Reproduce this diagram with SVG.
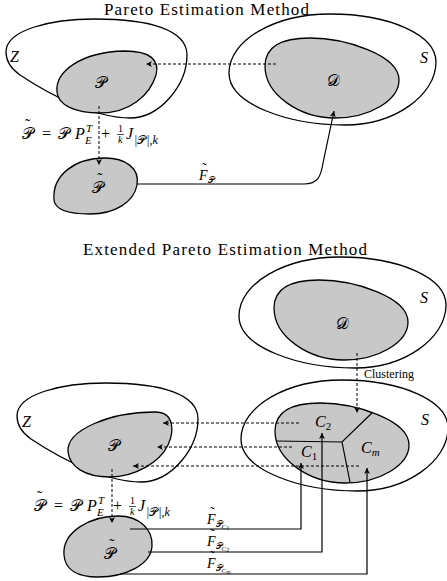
<svg xmlns="http://www.w3.org/2000/svg" width="447" height="581" viewBox="0 0 447 581">
<style>
.o{fill:none;stroke:#000;stroke-width:1.3}
.g{fill:#c8c8c8;stroke:#000;stroke-width:1.3}
.d{fill:none;stroke:#000;stroke-width:1;stroke-dasharray:3,2}
.s{fill:none;stroke:#000;stroke-width:1.2}
.t{font-family:"Liberation Serif","DejaVu Serif",serif;fill:#000}
.m{font-family:"Liberation Serif","DejaVu Serif",serif;font-style:italic;fill:#000}
.c{font-family:"DejaVu Serif","Liberation Serif",serif;font-style:normal;fill:#000}
.w{font-family:"Liberation Serif","DejaVu Serif",serif;fill:#000;font-size:16px}
</style>
<defs>
<marker id="ah" viewBox="0 0 10 10" refX="10" refY="5" markerWidth="7" markerHeight="6" orient="auto" markerUnits="userSpaceOnUse"><path d="M0,0 L10,5 L0,10 L3,5 z" fill="#000"/></marker>
<path id="Zs" d="M6,52 C6,30 50,19 95,19 C150,19 187,30 187,55 C187,85 160,118 130,118 C95,118 50,95 20,75 C10,68 6,60 6,52 Z"/>
<path id="Ss" d="M229,73 C229,40 275,14 330,14 C390,14 436,35 436,62 C436,95 395,125 345,125 C290,125 229,105 229,73 Z"/>
<path id="Ds" d="M265,66 C265,45 285,38 310,38 C345,38 399,55 399,80 C399,100 370,118 335,118 C300,118 265,95 265,66 Z"/>
</defs>

<text class="t" x="104" y="15" font-size="17" textLength="205" lengthAdjust="spacing">Pareto Estimation Method</text>
<text class="t" x="83" y="255" font-size="17" textLength="284" lengthAdjust="spacing">Extended Pareto Estimation Method</text>

<!-- top part -->
<g id="Z1"><use href="#Zs" class="o"/><text class="m" x="10" y="62" font-size="16">Z</text></g>
<g id="P1"><path class="g" d="M57,92 C55,72 80,52 125,51 C150,51 160,60 156,75 C150,95 130,113 100,113 C75,113 58,105 57,92 Z"/><text class="c" x="101" y="88" font-size="16" text-anchor="middle">𝒫</text></g>
<g id="S1"><use href="#Ss" class="o"/><text class="m" x="420" y="63" font-size="16">S</text></g>
<g id="D1"><use href="#Ds" class="g"/><text class="c" x="333" y="86" font-size="16" text-anchor="middle">𝒟</text></g>
<g id="PT1"><path class="g" d="M54,200 C52,175 75,158 105,158 C125,158 140,168 137,185 C134,202 115,214 90,214 C70,214 55,210 54,200 Z"/><text class="c" x="98" y="193" font-size="16" text-anchor="middle">𝒫</text><text class="w" x="100" y="184" text-anchor="middle">˜</text></g>

<!-- bottom part -->
<g id="S2"><use href="#Ss" class="o" transform="translate(10,243)"/><text class="m" x="420" y="303" font-size="16">S</text></g>
<g id="D2"><use href="#Ds" class="g" transform="translate(9,242)"/><text class="c" x="342" y="329" font-size="16" text-anchor="middle">𝒟</text></g>
<g id="Z2"><use href="#Zs" class="o" transform="translate(11,364)"/><text class="m" x="22" y="427" font-size="16">Z</text></g>
<g id="P2"><path class="g" d="M68,452 C66,430 110,412 155,412 C175,412 174,432 168,445 C160,462 135,477 110,477 C85,477 70,467 68,452 Z"/><text class="c" x="114" y="451" font-size="16" text-anchor="middle">𝒫</text></g>
<g id="S3"><use href="#Ss" class="o" transform="translate(12,366)"/><text class="m" x="421" y="425" font-size="16">S</text></g>
<g id="C"><use href="#Ds" class="g" transform="translate(10,365)"/>
<path class="s" d="M372,413 L342,442 L276,441 M342,442 L350,482"/>
<text class="m" x="315" y="427" font-size="16">C<tspan font-size="11" dy="3" font-style="normal">2</tspan></text>
<text class="m" x="301" y="457" font-size="16">C<tspan font-size="11" dy="3" font-style="normal">1</tspan></text>
<text class="m" x="361" y="453" font-size="16">C<tspan font-size="11" dy="3">m</tspan></text>
</g>
<g id="PT2"><path class="g" d="M64,555 C62,532 90,516 118,516 C140,516 153,530 152,546 C151,565 125,577 98,577 C78,577 65,570 64,555 Z"/><text class="c" x="110" y="559" font-size="16" text-anchor="middle">𝒫</text><text class="w" x="112" y="550" text-anchor="middle">˜</text></g>

<!-- formulas -->
<g id="F1">
<text class="c" x="22" y="139" font-size="16">𝒫</text><text class="w" x="25" y="130">˜</text>
<text class="t" x="42" y="139" font-size="16">=</text>
<text class="c" x="58" y="139" font-size="16">𝒫</text>
<text class="m" x="75" y="139" font-size="16">P</text>
<text class="m" x="86" y="132" font-size="11">T</text>
<text class="m" x="85" y="144" font-size="11">E</text>
<text class="t" x="101" y="139" font-size="16">+</text>
<text class="t" x="118" y="132" font-size="10">1</text>
<line x1="117" y1="134.5" x2="124" y2="134.5" stroke="#000" stroke-width="0.7"/>
<text class="m" x="118" y="143" font-size="10">k</text>
<text class="m" x="126" y="139" font-size="16">J</text>
<text class="m" x="134" y="144" font-size="12">|<tspan class="c">𝒫</tspan>|,k</text>
</g>
<g id="F2" transform="translate(12,372)">
<text class="c" x="22" y="139" font-size="16">𝒫</text><text class="w" x="25" y="130">˜</text>
<text class="t" x="42" y="139" font-size="16">=</text>
<text class="c" x="58" y="139" font-size="16">𝒫</text>
<text class="m" x="75" y="139" font-size="16">P</text>
<text class="m" x="86" y="132" font-size="11">T</text>
<text class="m" x="85" y="144" font-size="11">E</text>
<text class="t" x="101" y="139" font-size="16">+</text>
<text class="t" x="118" y="132" font-size="10">1</text>
<line x1="117" y1="134.5" x2="124" y2="134.5" stroke="#000" stroke-width="0.7"/>
<text class="m" x="118" y="143" font-size="10">k</text>
<text class="m" x="126" y="139" font-size="16">J</text>
<text class="m" x="134" y="144" font-size="12">|<tspan class="c">𝒫</tspan>|,k</text>
</g>

<!-- connectors -->
<g id="connectors">
<path class="d" d="M276,64 H146" marker-end="url(#ah)"/>
<path class="d" d="M99,106 V165" marker-end="url(#ah)"/>
<path class="s" d="M137,184 H304 C318,184 321,176 323,163 L334,111" marker-end="url(#ah)"/>
<path class="d" d="M357,353 V413" marker-end="url(#ah)"/>
<path class="d" d="M299,423 H163" marker-end="url(#ah)"/>
<path class="d" d="M292,447 H157" marker-end="url(#ah)"/>
<path class="d" d="M359,466 H133" marker-end="url(#ah)"/>
<path class="d" d="M112,469 V523" marker-end="url(#ah)"/>
<path class="s" d="M130,529 H301 V463" marker-end="url(#ah)"/>
<path class="s" d="M148,552 H322 V433" marker-end="url(#ah)"/>
<path class="s" d="M120,574 H367 V468" marker-end="url(#ah)"/>
</g>

<!-- labels -->
<text class="t" x="364" y="378" font-size="12">Clustering</text>
<g id="L1"><text class="m" x="199" y="180" font-size="14">F<tspan class="c" font-size="9" dy="3">𝒫</tspan></text><text class="t" x="202" y="173" font-size="14">˜</text></g>
<g id="L2"><text class="m" x="207" y="524" font-size="14">F<tspan class="c" font-size="9" dy="3">𝒫</tspan><tspan font-size="7" dy="2">C</tspan><tspan font-style="normal" font-size="6" dy="1">1</tspan></text><text class="t" x="210" y="517" font-size="14">˜</text></g>
<g id="L3"><text class="m" x="207" y="546" font-size="14">F<tspan class="c" font-size="9" dy="3">𝒫</tspan><tspan font-size="7" dy="2">C</tspan><tspan font-style="normal" font-size="6" dy="1">2</tspan></text><text class="t" x="210" y="539" font-size="14">˜</text></g>
<g id="L4"><text class="m" x="207" y="568" font-size="14">F<tspan class="c" font-size="9" dy="3">𝒫</tspan><tspan font-size="7" dy="2">C</tspan><tspan font-size="6" dy="1">m</tspan></text><text class="t" x="210" y="561" font-size="14">˜</text></g>
</svg>
